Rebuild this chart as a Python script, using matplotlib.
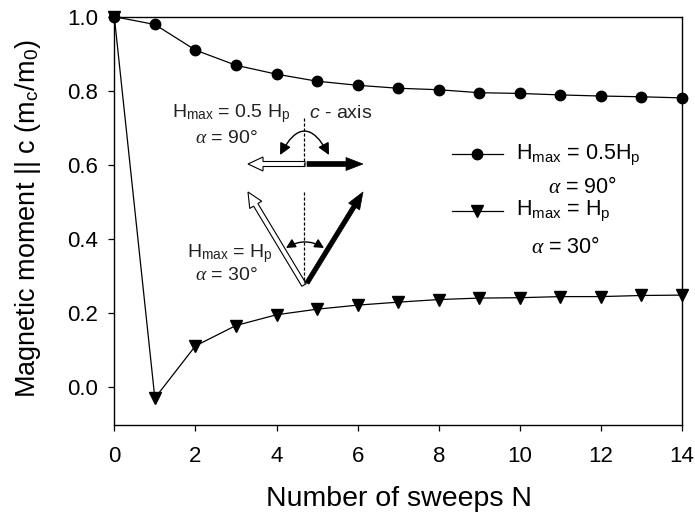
import matplotlib
matplotlib.use("Agg")
import matplotlib.pyplot as plt
from matplotlib.lines import Line2D
from matplotlib.patches import FancyArrow, FancyArrowPatch

plt.rcParams['font.family'] = ['Liberation Sans', 'DejaVu Sans']
plt.rcParams['mathtext.fontset'] = 'custom'
plt.rcParams['mathtext.rm'] = 'Liberation Sans'
plt.rcParams['mathtext.it'] = 'Liberation Serif:italic'
plt.rcParams['mathtext.sf'] = 'Liberation Sans:italic'

# ---- data ----
sweeps = [0, 1, 2, 3, 4, 5, 6, 7, 8, 9, 10, 11, 12, 13, 14]
m_90 = [1.000, 0.979, 0.910, 0.869, 0.845, 0.826, 0.815, 0.807, 0.803,
        0.795, 0.793, 0.789, 0.786, 0.784, 0.781]
m_30 = [1.000, -0.029, 0.112, 0.167, 0.196, 0.211, 0.222, 0.230, 0.237,
        0.241, 0.242, 0.245, 0.245, 0.248, 0.249]
x_ticks = [0, 2, 4, 6, 8, 10, 12, 14]
y_ticks = [0.0, 0.2, 0.4, 0.6, 0.8, 1.0]
label_90 = [r"H$_{\mathrm{max}}$ = 0.5H$_{\mathrm{p}}$", r"$\alpha$ = 90°"]
label_30 = [r"H$_{\mathrm{max}}$ = H$_{\mathrm{p}}$", r"$\alpha$ = 30°"]

W, H = 695, 516
fig = plt.figure(figsize=(W / 100, H / 100), dpi=100)
ax_l, ax_r, ax_t, ax_b = 114.3, 682.0, 16.7, 424.5
ax = fig.add_axes([ax_l / W, 1 - ax_b / H, (ax_r - ax_l) / W, (ax_b - ax_t) / H])

ax.plot(sweeps, m_90, color='black', lw=0.9, marker='o', ms=7.5,
        clip_on=False, zorder=3)
ax.plot(sweeps, m_30, color='black', lw=0.9, marker='v', ms=8.5,
        clip_on=False, zorder=3)

ax.set_xlim(0, 14)
ax.set_ylim(-0.1, 1.0)
ax.set_xticks(x_ticks)
ax.set_yticks(y_ticks)
ax.set_yticklabels([f"{v:.1f}" for v in y_ticks])
for s in ax.spines.values():
    s.set_linewidth(1.0)
ax.tick_params(axis='both', direction='out', length=4.5, width=0.9,
               labelsize=16)
ax.tick_params(axis='x', pad=11)
ax.tick_params(axis='y', pad=7)

ax.set_xlabel("Number of sweeps N", fontsize=20.5)
ax.set_ylabel(r"Magnetic moment || c (m$_{\mathrm{c}}$/m$_{\mathrm{0}}$)",
              fontsize=19.5)
ax.xaxis.set_label_coords((398.5 - ax_l) / (ax_r - ax_l), -0.150)
ax.yaxis.set_label_coords(-(ax_l - 43) / (ax_r - ax_l), 0.505)

# ---- overlay in pixel coordinates (y downward) ----
ov = fig.add_axes([0, 0, 1, 1])
ov.set_xlim(0, W)
ov.set_ylim(H, 0)
ov.axis('off')
ov.patch.set_alpha(0)

# legend
ov.add_line(Line2D([452, 503], [154, 154], color='black', lw=0.9))
ov.add_line(Line2D([477], [154], color='black', marker='o', ms=7.5))
ov.add_line(Line2D([452, 503], [211, 211], color='black', lw=0.9))
ov.add_line(Line2D([477], [211], color='black', marker='v', ms=8.5))
ov.text(516, 159, label_90[0], fontsize=15.5, va='baseline', ha='left')
ov.text(582, 193, label_90[1], fontsize=15.5, va='baseline', ha='center')
ov.text(516, 215, label_30[0], fontsize=15.5, va='baseline', ha='left')
ov.text(565, 253, label_30[1], fontsize=15.5, va='baseline', ha='center')

# inset sketch
tc = '#222222'
ov.text(172, 117, r"H$_{\mathrm{max}}$ = 0.5 H$_{\mathrm{p}}$", fontsize=14,
        va='baseline', ha='left', color=tc)
ov.text(258, 143, r"$\alpha$ = 90°", fontsize=14, va='baseline', ha='right',
        color=tc)
ov.text(309, 118, r"$\mathsf{c}$ - axis", fontsize=14, va='baseline',
        ha='left', color=tc)
ov.text(187, 257, r"H$_{\mathrm{max}}$ = H$_{\mathrm{p}}$", fontsize=14,
        va='baseline', ha='left', color=tc)
ov.text(258, 280, r"$\alpha$ = 30°", fontsize=14, va='baseline', ha='right',
        color=tc)

# dashed c-axis lines
ov.add_line(Line2D([304, 304], [118, 165], color='black', lw=0.9, ls=(0, (2.5, 1.5))))
ov.add_line(Line2D([304, 304], [192, 283], color='black', lw=0.9, ls=(0, (2.5, 1.5))))

# horizontal arrows
ov.add_patch(FancyArrow(305, 164, -57, 0, width=5, head_width=14,
                        head_length=15, length_includes_head=True,
                        facecolor='white', edgecolor='black', lw=0.8))
ov.add_patch(FancyArrow(307, 164, 56, 0, width=5, head_width=13,
                        head_length=17, length_includes_head=True,
                        facecolor='black', edgecolor='black', lw=0.5))
# tilted arrows
ov.add_patch(FancyArrow(304, 285, -56, -93, width=5, head_width=14,
                        head_length=15, length_includes_head=True,
                        facecolor='white', edgecolor='black', lw=0.8))
ov.add_patch(FancyArrow(307, 283, 56, -91, width=4.5, head_width=13,
                        head_length=17, length_includes_head=True,
                        facecolor='black', edgecolor='black', lw=0.5))

# curved double arrows
ov.add_patch(FancyArrowPatch((280, 155), (329, 155),
                             connectionstyle="arc3,rad=-0.95",
                             arrowstyle="<|-|>,head_length=7,head_width=3.5",
                             color='black', lw=1.0, shrinkA=0, shrinkB=0))
ov.add_patch(FancyArrowPatch((286, 248), (324, 248),
                             connectionstyle="arc3,rad=-0.3",
                             arrowstyle="<|-|>,head_length=5.5,head_width=2.8",
                             color='black', lw=1.0, shrinkA=0, shrinkB=0))

fig.savefig("out.png", dpi=100)
